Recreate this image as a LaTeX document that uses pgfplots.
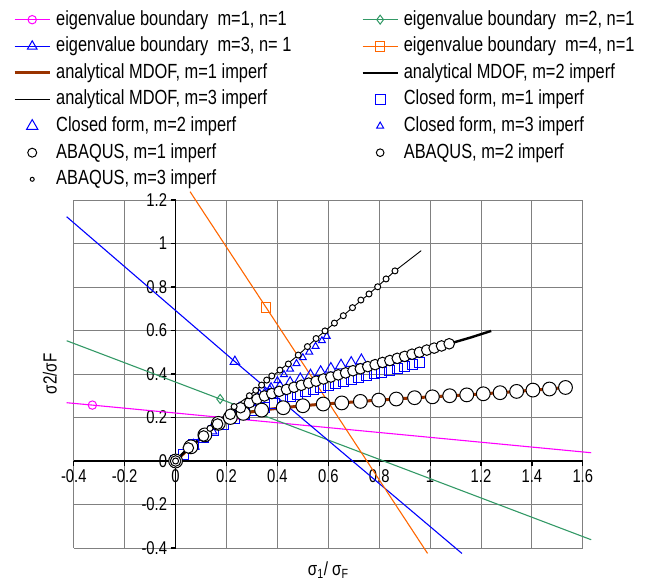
\documentclass[border=0pt]{standalone}
\usepackage{fontspec}
\setmainfont[FakeStretch=0.8]{Liberation Sans}
\usepackage{pgfplots}
\usepackage{pgfplotstable}
\pgfplotsset{compat=1.18}
\definecolor{eigpink}{HTML}{FF00FF}
\definecolor{eiggreen}{HTML}{339966}
\definecolor{eigblue}{HTML}{0000FF}
\definecolor{eigorange}{HTML}{FF6600}
\definecolor{mdofbrown}{HTML}{993300}

% ABAQUS, m=1 imperf (also analytical MDOF m=1)
\pgfplotstableread{
x y
0 0
0.060 0.065
0.115 0.120
0.168 0.173
0.215 0.200
0.266 0.219
0.338 0.234
0.423 0.245
0.500 0.254
0.580 0.262
0.653 0.267
0.726 0.274
0.798 0.280
0.867 0.285
0.939 0.291
1.009 0.295
1.077 0.300
1.144 0.304
1.209 0.309
1.275 0.314
1.340 0.320
1.404 0.326
1.469 0.331
1.532 0.338
}\abqone

% ABAQUS, m=2 imperf
\pgfplotstableread{
x y
0 0
0.050 0.060
0.110 0.115
0.165 0.170
0.215 0.215
0.255 0.245
0.290 0.268
0.320 0.285
0.349 0.299
0.378 0.310
0.407 0.320
0.436 0.329
0.465 0.339
0.494 0.348
0.523 0.358
0.552 0.367
0.581 0.377
0.610 0.386
0.639 0.396
0.668 0.405
0.697 0.415
0.726 0.424
0.755 0.434
0.784 0.443
0.813 0.453
0.842 0.462
0.871 0.472
0.900 0.481
0.929 0.491
0.958 0.500
0.987 0.510
1.016 0.519
1.045 0.529
1.075 0.539
}\abqtwo

% analytical MDOF, m=2 imperf
\pgfplotstableread{
x y
0 0
0.050 0.060
0.110 0.115
0.165 0.170
0.215 0.215
0.255 0.245
0.290 0.268
0.320 0.285
0.378 0.310
0.436 0.329
0.523 0.358
0.610 0.386
0.697 0.415
0.784 0.443
0.871 0.472
0.958 0.500
1.075 0.539
1.160 0.568
1.240 0.598
}\mdoftwo

% ABAQUS, m=3 imperf
\pgfplotstableread{
x y
0 0
0.135 0.150
0.230 0.250
0.290 0.300
0.315 0.325
0.338 0.349
0.358 0.372
0.378 0.391
0.410 0.418
0.443 0.446
0.482 0.487
0.518 0.526
0.552 0.563
0.587 0.598
0.624 0.634
0.659 0.668
0.695 0.705
0.728 0.740
0.760 0.768
0.794 0.801
0.827 0.837
0.862 0.874
}\abqthree

% analytical MDOF, m=3 imperf
\pgfplotstableread{
x y
0 0
0.135 0.150
0.230 0.250
0.290 0.300
0.338 0.349
0.410 0.418
0.482 0.487
0.552 0.563
0.624 0.634
0.695 0.705
0.760 0.768
0.827 0.837
0.862 0.874
0.965 0.967
}\mdofthree

% closed form, m=1 imperf
\pgfplotstableread{
x y
0 0
0.03 0.030
0.07 0.075
0.11 0.110
0.15 0.140
0.19 0.170
0.23 0.195
0.27 0.215
0.31 0.232
0.35 0.248
0.39 0.265
0.42 0.285
0.45 0.298
0.48 0.308
0.51 0.318
0.54 0.327
0.57 0.336
0.60 0.346
0.63 0.355
0.66 0.364
0.69 0.373
0.72 0.382
0.75 0.391
0.78 0.400
0.81 0.409
0.84 0.418
0.87 0.427
0.90 0.436
0.93 0.445
0.96 0.454
}\cfone

% closed form, m=2 imperf
\pgfplotstableread{
x y
0 0
0.07 0.070
0.14 0.140
0.20 0.195
0.25 0.240
0.29 0.270
0.33 0.300
0.37 0.320
0.41 0.340
0.45 0.358
0.49 0.375
0.53 0.392
0.57 0.408
0.61 0.423
0.65 0.438
0.69 0.450
0.73 0.462
}\cftwo

% closed form, m=3 imperf
\pgfplotstableread{
x y
0 0
0.050 0.055
0.100 0.105
0.150 0.155
0.200 0.195
0.250 0.230
0.275 0.250
0.300 0.270
0.325 0.293
0.350 0.317
0.375 0.342
0.400 0.369
0.426 0.397
0.450 0.422
0.475 0.448
0.500 0.475
0.525 0.501
0.550 0.527
0.575 0.553
0.594 0.573
}\cfthree

\begin{document}
\begin{tikzpicture}
\path[use as bounding box] (-73.8pt,-33pt) rectangle (596.2pt,548pt);
\begin{axis}[
  scale only axis, width=509pt, height=348pt,
  xmin=-0.4, xmax=1.6, ymin=-0.4, ymax=1.2,
  axis lines=middle,
  axis line style={-, black, line width=1.8pt},
  xtick={-0.4,-0.2,0,0.2,0.4,0.6,0.8,1,1.2,1.4,1.6},
  ytick={-0.4,-0.2,0,0.2,0.4,0.6,0.8,1,1.2},
  hide obscured x ticks=false, hide obscured y ticks=false,
  grid=major, grid style={black!50, line width=0.9pt},
  tick style={black, line width=1.2pt},
  major tick length=5pt, tick align=outside,
  ticklabel style={font=\fontsize{18.5}{20}\selectfont},
  /pgf/number format/assume math mode=true,
  /pgf/number format/fixed,
  clip=false,
  xlabel={σ\textsubscript{1}/ σ\textsubscript{F}},
  ylabel={σ2/σF},
  every axis x label/.style={at={(rel axis cs:0.5,-0.063)}, anchor=center, font=\fontsize{19}{21}\selectfont},
  every axis y label/.style={at={(rel axis cs:-0.047,0.5)}, anchor=center, rotate=90, font=\fontsize{19}{21}\selectfont},
  legend columns=2,
  legend cell align=left,
  legend image code/.code={\draw[mark repeat=2,mark phase=2,#1] plot coordinates {(0pt,0pt) (17.5pt,0pt) (35pt,0pt)};},
  legend style={
    at={(-0.1194,1.546)}, anchor=north west,
    draw=none, fill=none, inner sep=0pt,
    font=\fontsize{20.5}{23}\selectfont,
    nodes={inner sep=0pt, text height=15pt, text depth=4pt},
    row sep=7.6pt,
    /tikz/every odd column/.append style={column sep=5pt},
    /tikz/every even column/.append style={column sep=70pt},
  },
]
% eigenvalue boundaries
\addplot[eigpink, line width=1.1pt, mark=o, mark size=4.2pt, mark indices={2}, mark options={solid, line width=1pt}]
  coordinates {(-0.428,0.268) (-0.327,0.257) (1.633,0.038)};
\addlegendentry{eigenvalue boundary\ \ m=1, n=1}
\addplot[eiggreen, line width=1.1pt, mark=diamond, mark size=4.5pt, mark indices={2}, mark options={solid, line width=1pt}]
  coordinates {(-0.428,0.553) (0.175,0.285) (1.633,-0.362)};
\addlegendentry{eigenvalue boundary\ \ m=2, n=1}
\addplot[eigblue, line width=1.1pt, mark=triangle, mark size=5.5pt, mark indices={2}, mark options={solid, line width=1pt}]
  coordinates {(-0.428,1.123) (0.233,0.457) (1.125,-0.425)};
\addlegendentry{eigenvalue boundary\ \ m=3, n= 1}
\addplot[eigorange, line width=1.1pt, mark=square, mark size=4.8pt, mark indices={2}, mark options={solid, line width=1pt}]
  coordinates {(0.057,1.238) (0.355,0.707) (0.99,-0.425)};
\addlegendentry{eigenvalue boundary\ \ m=4, n=1}
% analytical MDOF
\addplot[mdofbrown, line width=3pt, no marks] table {\abqone};
\addlegendentry{analytical MDOF, m=1 imperf}
\addplot[black, line width=2.4pt, no marks] table {\mdoftwo};
\addlegendentry{analytical MDOF, m=2 imperf}
\addplot[black, line width=0.9pt, no marks] table {\mdofthree};
\addlegendentry{analytical MDOF, m=3 imperf}
% closed form
\addplot[eigblue, only marks, mark=square, mark size=5pt, mark options={line width=1pt}] table {\cfone};
\addlegendentry{Closed form, m=1 imperf}
\addplot[eigblue, only marks, mark=triangle, mark size=6.5pt, mark options={line width=1pt}] table {\cftwo};
\addlegendentry{Closed form, m=2 imperf}
\addplot[eigblue, only marks, mark=triangle, mark size=4pt, mark options={line width=1pt}] table {\cfthree};
\addlegendentry{Closed form, m=3 imperf}
% ABAQUS
\addplot[black, only marks, mark=*, mark size=6.9pt, mark options={fill=white, line width=1pt}, legend image post style={mark size=4.5pt}] table {\abqone};
\addlegendentry{ABAQUS, m=1 imperf}
\addplot[black, only marks, mark=*, mark size=5.3pt, mark options={fill=white, line width=1pt}, legend image post style={mark size=3.8pt}] table {\abqtwo};
\addlegendentry{ABAQUS, m=2 imperf}
\addplot[black, only marks, mark=*, mark size=3pt, mark options={fill=white, line width=1pt}, legend image post style={mark size=2pt}] table {\abqthree};
\addlegendentry{ABAQUS, m=3 imperf}
\end{axis}
\end{tikzpicture}
\end{document}
